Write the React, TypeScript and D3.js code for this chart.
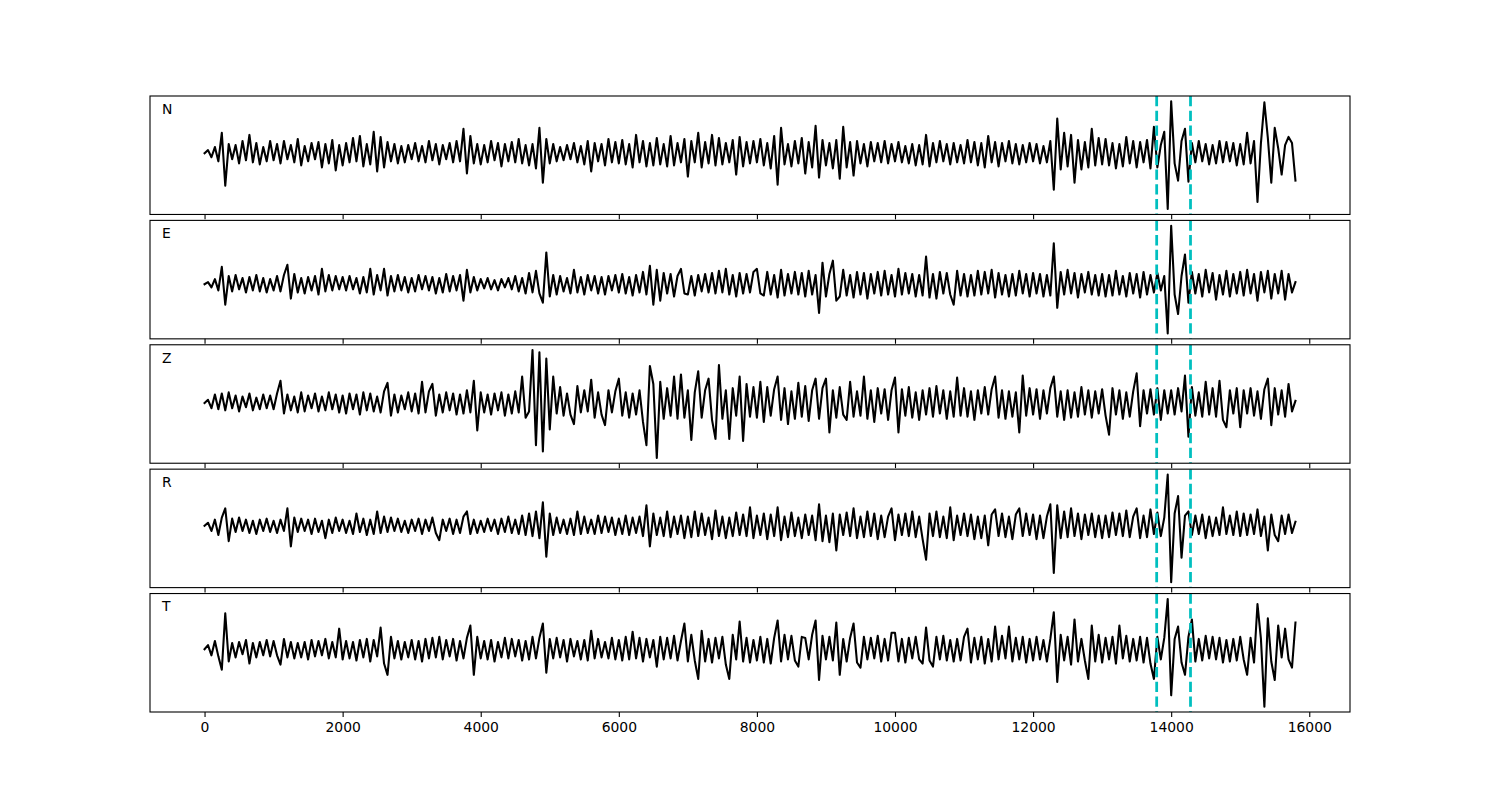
import React, { useEffect, useRef } from "react";
import * as d3 from "d3";

// one value every 50 samples, 0..15800 (amplitudes)
const sampleStep = 50;
const channels = ["N", "E", "Z", "R", "T"];
const pickTimes = [13790, 14280];
const xTicks = [0, 2000, 4000, 6000, 8000, 10000, 12000, 14000, 16000];

const traceN = [
  0, 3, -4, 6, -8, 20, -32, 9, -6, 8, -10, 12, -7, 18, -9, 10, -11, 6, -8, 12,
  -7, 9, -10, 12, -6, 8, -9, 14, -12, 7, -8, 10, -6, 11, -14, 9, -10, 13, -17, 8,
  -12, 10, -9, 15, -8, 17, -13, 9, -11, 21, -18, 16, -14, 11, -8, 9, -10, 7, -9, 8,
  -6, 10, -8, 7, -9, 12, -7, 9, -11, 8, -6, 10, -9, 12, -8, 24, -20, 17, -10, 9,
  -11, 8, -9, 12, -7, 10, -13, 9, -8, 11, -9, 14, -10, 8, -12, 9, -15, 25, -29, 14,
  -10, 9, -8, 6, -7, 8, -6, 10, -9, 7, -11, 12, -18, 10, -8, 9, -12, 14, -9, 11,
  -10, 13, -11, 9, -14, 18, -9, 12, -13, 10, -12, 15, -11, 9, -13, 17, -12, 10, -9, 14,
  -23, 12, -9, 20, -14, 11, -10, 18, -12, 15, -11, 10, -9, 13, -21, 16, -13, 11, -10, 12,
  -9, 14, -12, 10, -15, 17, -31, 25, -11, 9, -13, 12, -10, 15, -20, 11, -14, 27, -24, 13,
  -12, 10, -15, 13, -25, 26, -14, 11, -22, 12, -10, 9, -13, 11, -8, 10, -9, 12, -10, 9,
  -8, 11, -9, 7, -10, 9, -12, 8, -11, 18, -13, 10, -9, 12, -8, 9, -11, 10, -9, 8,
  -10, 13, -9, 11, -12, 10, -14, 17, -9, 11, -13, 10, -8, 12, -10, 9, -11, 8, -9, 10,
  -8, 9, -10, 7, -9, 12, -36, 34, -16, 20, -13, 18, -29, 13, -16, 11, -14, 24, -12, 15,
  -11, 14, -12, 10, -15, 9, -13, 16, -10, 12, -14, 11, -9, 13, -15, 26, -14, 8, 21, -55,
  51, -10, -27, 12, 24, -28, 10, -9, 12, -8, 9, -11, 8, -10, 12, -9, 11, -8, 10, -12,
  9, -11, 20, -10, 12, -48, 10, 50, 15, -29, 25, 5, -21, 8, 16, 10, -27,
];

const traceE = [
  0, 2, -3, 5, -6, 17, -20, 8, -7, 9, -5, 6, -8, 7, -6, 9, -7, 6, -8, 5,
  -6, 8, -7, 9, 19, -14, 10, -8, 6, -9, 7, -6, 8, -10, 15, -7, 9, -6, 8, -5,
  7, -6, 8, -5, 6, -9, 7, -8, 15, -10, 9, -6, 15, -11, 8, -7, 9, -6, 7, -8,
  6, -7, 9, -5, 8, -6, 7, -9, 6, -8, 10, -7, 8, -6, 9, -16, 14, -8, 7, -6,
  5, -4, 6, -5, 4, -6, 5, -3, 6, -5, 8, -7, 6, -9, 11, -8, 13, -9, -18, 31,
  -12, 9, -10, 8, -7, 6, -9, 14, -8, 7, -10, 9, -6, 8, -9, 7, -10, 8, -6, 9,
  -8, 10, -9, 7, -11, 9, -8, 12, -10, 18, -20, 14, -16, 11, -9, 10, -12, 8, 15, -9,
  -10, 8, -11, 9, -7, 10, -8, 11, -9, 13, -8, 15, -10, 9, -12, 11, -9, 10, -8, 12,
  15, -9, -11, 12, -10, 9, -13, 14, -11, 10, -9, 12, -10, 11, -12, 13, -10, 9, -28, 21,
  -12, 10, 23, -16, -12, 14, -11, 9, -13, 12, -10, 11, -14, 10, -9, 12, -11, 13, -10, 9,
  -12, 15, -10, 11, -9, 10, -12, 9, -11, 27, -13, 10, -14, 12, -9, 11, -10, -20, 13, -11,
  10, -12, 9, -11, 13, -10, 12, -9, 14, -13, 11, -10, 9, -12, 10, -11, 13, -9, 10, -12,
  11, -9, 10, -12, 9, -11, 40, -23, 12, -10, 14, -9, 11, -13, 10, -8, 12, -10, 9, -11,
  10, -12, 9, -11, 13, -10, 8, -12, 11, -9, 10, -13, 12, -10, 9, -8, 11, -6, 8, -48,
  57, -10, -29, 8, 29, -18, 12, -9, 10, -12, 14, -8, 11, -15, 9, -10, 13, -12, 10, -9,
  12, -11, 14, -9, 10, -16, 12, -8, 13, -14, 10, -9, 13, -15, 10, -8, 2,
];

const traceZ = [
  0, 3, -5, 8, -6, 9, -7, 10, -5, 7, -8, 6, -4, 9, -7, 5, -6, 8, -5, 7,
  -6, 9, 21, -10, 8, -7, 6, -9, 10, -8, 7, -5, 9, -8, 6, -7, 10, -6, 8, -9,
  7, -10, 9, -6, 8, -11, 10, -7, 9, -8, 6, -9, 11, 19, -12, 8, -9, 7, -6, 10,
  -8, 9, -10, 20, -9, 11, 18, -12, 8, -9, 10, -7, 9, -11, 8, -10, 12, -9, 21, -26,
  10, -9, 8, -11, 9, -7, 10, -12, 8, -10, 11, -9, 25, -14, -8, 50, -40, 48, -46, 42,
  -25, 25, -10, 15, -12, 9, -11, -20, 16, -9, 12, -8, 22, -14, 10, -11, -21, 12, -9, 11,
  23, -12, 10, -14, 9, -11, 12, -18, -40, 35, 18, -52, 20, -15, 14, -12, 25, -15, 27, -14,
  12, -35, 10, 30, -14, 12, 23, -16, -34, 36, -15, 12, -34, 14, -12, 25, -36, 18, -13, 15,
  -14, 20, -18, 15, -12, 13, 25, -16, 14, -20, 11, -15, 19, -13, 16, -17, 12, 23, -15, 14,
  23, -28, 12, -14, 15, -11, -16, 20, -13, 11, -12, 25, -15, 12, -18, 14, -10, 13, -16, 12,
  24, -28, 13, -12, 15, -14, 10, -16, 12, -11, 14, -13, 16, -10, 12, -15, 11, -13, 24, -12,
  14, -13, 11, -16, 12, -10, 15, -11, 13, 25, -14, 12, -15, 11, -13, 10, -28, 26, -12, 14,
  -11, 13, -15, 12, -10, 14, 25, -13, 11, -16, 12, -14, 10, -13, 15, -11, 12, -14, 11, -10,
  13, -12, -30, 14, -11, 12, -15, 10, -13, 11, 28, -22, 12, -10, 13, -11, 14, -16, 12, -10,
  12, -11, 14, -8, 26, -32, 15, -12, 10, -13, 20, -11, 14, -13, 21, -16, -23, 12, -10, 14,
  -23, 12, -10, 14, -12, 11, -15, 13, 23, -21, 14, -11, 12, -13, 18, -8, 2,
];

const traceR = [
  0, 3, -5, 6, -9, 8, 17, -15, 7, -6, 8, -5, 6, -7, 5, -8, 6, -5, 7, -6,
  5, -7, 6, -5, 17, -20, 8, -6, 7, -5, 6, -8, 7, -6, 5, -12, 6, -7, 8, -5,
  6, -7, 5, -8, 12, -6, 7, -9, 6, -8, 14, -7, 9, -6, 8, -5, 7, -6, 5, -7,
  6, -5, 7, -8, 6, -5, 8, -7, -14, 6, -5, 7, -8, 6, -7, 9, 14, -8, 6, -7,
  5, -6, 7, -5, 6, -8, 7, -6, 9, -7, 6, -8, 10, -9, 12, -10, 14, -12, 23, -30,
  12, -9, 8, -7, 6, -8, 7, -9, 14, -8, 9, -7, 6, -8, 10, -7, 9, -6, 8, -9,
  7, -8, 10, -9, 8, -7, 9, -10, 20, -20, 12, -9, 8, -10, 14, -11, 9, -8, 10, -12,
  9, -11, 14, -10, 12, -9, 8, -13, 15, -10, 9, -12, 8, -10, 13, -9, 11, -10, 18, -12,
  10, -9, 12, -13, 11, -10, 18, -14, 9, -11, 13, -10, 8, -12, 11, -9, 10, -14, 21, -15,
  10, -16, 12, -24, 11, -9, 13, -10, 17, -12, 9, -11, 14, -10, 12, -13, 10, -11, 9, 17,
  -14, 11, -9, 12, -10, 14, -11, 9, -13, -33, 12, -10, 14, -11, 9, -12, 18, -14, 10, -9,
  12, -10, 11, -13, 9, -12, 10, -19, 11, 16, -10, 12, -11, 9, -13, 11, 17, -10, 12, -9,
  11, -13, 10, -12, 9, 21, -46, 20, -12, 14, -11, 17, -10, 12, -13, 11, -9, 12, -11, 10,
  -12, 10, -11, 13, -9, 12, -10, 15, -11, 9, 17, -12, 10, -11, 16, -8, 13, -10, 8, 50,
  -55, 12, 29, -31, 10, 14, -9, 10, -8, 11, -12, 9, -10, 8, -9, 18, -8, 10, -9, 14,
  -10, 12, -9, 11, -8, 16, -10, 9, -24, 11, -9, -15, 10, -8, 11, -7, 4,
];

const traceT = [
  0, 4, -6, 8, -7, -20, 35, -12, 6, -8, 7, -5, 9, -14, 6, -8, 7, -6, 9, -7,
  8, -6, -15, 10, -8, 7, -9, 6, -8, 7, -10, 9, -7, 8, -6, 10, -9, 7, -8, 20,
  -10, 8, -9, 7, -11, 9, -8, 10, -12, 9, -7, 21, -14, -25, 12, -9, 8, -10, 7, -8,
  9, -10, 8, -12, 10, -9, 11, -8, 12, -10, 9, -7, 10, -11, 8, -9, 11, 23, -25, 12,
  -9, 8, -10, 9, -12, 7, -8, 11, -9, 10, -7, 9, -11, 8, -10, 12, -9, 11, 25, -23,
  10, -9, 11, -8, 9, -12, 10, -7, 8, -10, 9, -11, 18, -9, 10, -8, 7, -9, 11, -10,
  9, -11, 12, -10, 17, -9, 11, -12, 10, -8, 9, -17, 12, -10, 11, -9, 13, -11, 8, 25,
  -12, 14, -11, -29, 18, -12, 10, -13, 11, -9, 12, -15, -29, 14, -10, 27, -12, 11, -13, 9,
  -11, 12, -13, 10, -14, 11, 28, -12, 14, -10, 13, -11, -17, 12, 11, -10, 14, 28, -30, 13,
  -10, 12, -11, 26, -25, 10, -12, 11, 25, -13, -18, 12, -10, 11, -9, 13, -12, 10, -11, 16,
  16, -12, 10, -13, 11, -9, 12, -10, -14, 21, -11, -17, 12, -10, 13, -11, 9, -12, 10, -11,
  12, 20, -13, 11, -10, 12, -14, 10, -12, 22, -10, 13, -9, 22, -12, 11, -10, 12, -13, 10,
  -11, 12, -10, 9, -12, 10, 36, -32, 14, -11, 12, -15, 29, -12, 10, -11, -29, 23, -12, 14,
  -13, 11, -10, 12, -14, 23, -9, 13, -12, 10, -11, 12, -13, 11, -14, -29, 12, -10, 11, 49,
  -45, 10, 22, -13, -25, 12, 29, -12, 10, -11, 13, -9, 12, -10, 11, -13, 9, -12, 10, -11,
  12, -10, -25, 11, -13, 44, 10, -56, 30, -12, -30, 23, -8, 20, -10, -18, 26,
];

const traces = [traceN, traceE, traceZ, traceR, traceT];

export default function App() {
  const svgRef = useRef<SVGSVGElement>(null);

  useEffect(() => {
    const width = 1500;
    const height = 800;
    const margin = { top: 96, right: 150, bottom: 88, left: 150 };
    const hspace = 0.05;
    const fontFamily = "'DejaVu Sans', sans-serif";

    const svg = d3.select(svgRef.current);
    svg.selectAll("*").remove();
    svg.attr("width", width).attr("height", height);
    svg.append("rect").attr("width", width).attr("height", height).attr("fill", "#fff");

    const nPanels = traces.length;
    const innerH = height - margin.top - margin.bottom;
    const panelH = innerH / (nPanels + (nPanels - 1) * hspace);
    const gap = panelH * hspace;

    // x limits like matplotlib autoscale: 5% margin on the sample range
    const xMax = d3.max(traces, (t) => (t.length - 1) * sampleStep) as number;
    const pad = xMax * 0.05;
    const x = d3
      .scaleLinear()
      .domain([-pad, xMax + pad])
      .range([margin.left, width - margin.right]);

    traces.forEach((trace, i) => {
      const top = margin.top + i * (panelH + gap);
      const bottom = top + panelH;
      const [lo, hi] = d3.extent(trace) as [number, number];
      const r = hi - lo;
      const y = d3
        .scaleLinear()
        .domain([lo - 0.05 * r, hi + 0.05 * r])
        .range([bottom, top]);

      const clipId = `clip-${i}`;
      svg
        .append("clipPath")
        .attr("id", clipId)
        .append("rect")
        .attr("x", margin.left)
        .attr("y", top)
        .attr("width", width - margin.left - margin.right)
        .attr("height", panelH);

      const g = svg.append("g").attr("clip-path", `url(#${clipId})`);

      const line = d3
        .line<number>()
        .x((_, j) => x(j * sampleStep))
        .y((d) => y(d));

      g.append("path")
        .datum(trace)
        .attr("d", line)
        .attr("fill", "none")
        .attr("stroke", "#000")
        .attr("stroke-width", 2.08)
        .attr("stroke-linejoin", "round")
        .attr("stroke-linecap", "square");

      // picks
      g.selectAll(".pick")
        .data(pickTimes)
        .enter()
        .append("line")
        .attr("x1", (d) => x(d))
        .attr("x2", (d) => x(d))
        .attr("y1", top)
        .attr("y2", bottom)
        .attr("stroke", "#00bfbf")
        .attr("stroke-width", 2.78)
        .attr("stroke-dasharray", "10.3 4.4");

      // frame
      svg
        .append("rect")
        .attr("x", margin.left)
        .attr("y", top)
        .attr("width", width - margin.left - margin.right)
        .attr("height", panelH)
        .attr("fill", "none")
        .attr("stroke", "#000")
        .attr("stroke-width", 1.1);

      // channel label
      svg
        .append("text")
        .attr("x", margin.left + 0.01 * (width - margin.left - margin.right))
        .attr("y", bottom - 0.85 * panelH)
        .attr("font-family", fontFamily)
        .attr("font-size", 13.9)
        .attr("fill", "#000")
        .text(channels[i]);

      // x axis, labels only on the last panel
      const axis = d3
        .axisBottom(x)
        .tickValues(xTicks)
        .tickSize(4.9)
        .tickPadding(4.9)
        .tickFormat(i === nPanels - 1 ? (d) => String(d) : () => "");

      const ax = svg
        .append("g")
        .attr("transform", `translate(0,${bottom})`)
        .call(axis);
      ax.select(".domain").remove();
      ax.selectAll("line").attr("stroke", "#000").attr("stroke-width", 1.1);
      ax.selectAll("text")
        .attr("font-family", fontFamily)
        .attr("font-size", 13.9)
        .attr("fill", "#000");
    });
  }, []);

  return (
    <svg
      ref={svgRef}
      style={{ display: "block", position: "absolute", left: 0, top: 0 }}
    ></svg>
  );
}
